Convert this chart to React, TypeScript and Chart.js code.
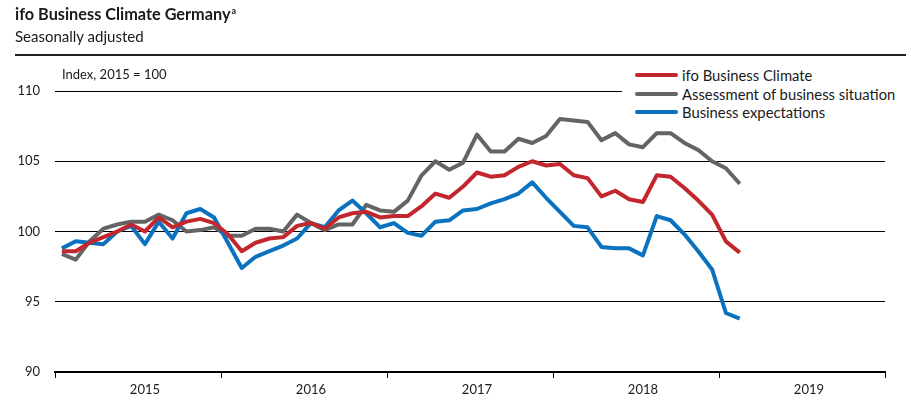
import React, { useEffect, useRef } from "react";
import { Chart, registerables } from "chart.js";

Chart.register(...registerables);

// Categories: months Jan 2015 – Dec 2019
const years = ["2015", "2016", "2017", "2018", "2019"];
const monthNames = ["Jan", "Feb", "Mar", "Apr", "May", "Jun", "Jul", "Aug", "Sep", "Oct", "Nov", "Dec"];
const categories = years.flatMap((y) => monthNames.map((m) => `${m} ${y}`));

// Series (Jan 2015 – Feb 2019), index 2015 = 100
const businessClimate = [
  98.6, 98.6, 99.2, 99.6, 100.0, 100.5, 100.0, 101.0, 100.3, 100.7, 100.9, 100.6,
  99.8, 98.6, 99.2, 99.5, 99.6, 100.4, 100.6, 100.2, 101.0, 101.3, 101.4, 101.0,
  101.1, 101.1, 101.8, 102.7, 102.4, 103.2, 104.2, 103.9, 104.0, 104.6, 105.0, 104.7,
  104.8, 104.0, 103.8, 102.5, 102.9, 102.3, 102.1, 104.0, 103.9, 103.1, 102.2, 101.2,
  99.3, 98.5,
];
const businessSituation = [
  98.4, 98.0, 99.3, 100.2, 100.5, 100.7, 100.7, 101.2, 100.8, 100.0, 100.1, 100.3,
  99.7, 99.7, 100.2, 100.2, 100.0, 101.2, 100.6, 100.1, 100.5, 100.5, 101.9, 101.5,
  101.4, 102.2, 104.0, 105.0, 104.4, 104.9, 106.9, 105.7, 105.7, 106.6, 106.3, 106.8,
  108.0, 107.9, 107.8, 106.5, 107.0, 106.2, 106.0, 107.0, 107.0, 106.3, 105.8, 105.0,
  104.5, 103.4,
];
const businessExpectations = [
  98.8, 99.3, 99.2, 99.1, 100.0, 100.4, 99.1, 100.7, 99.5, 101.3, 101.6, 101.0,
  99.2, 97.4, 98.2, 98.6, 99.0, 99.5, 100.6, 100.3, 101.5, 102.2, 101.3, 100.3,
  100.6, 99.9, 99.7, 100.7, 100.8, 101.5, 101.6, 102.0, 102.3, 102.7, 103.5, 102.4,
  101.4, 100.4, 100.3, 98.9, 98.8, 98.8, 98.3, 101.1, 100.8, 99.8, 98.6, 97.3,
  94.2, 93.8,
];

const seriesNames = ["ifo Business Climate", "Assessment of business situation", "Business expectations"];
const seriesColors = ["#c1272d", "#646464", "#0a72be"];
const yTicks = [90, 95, 100, 105, 110];

const FONT = "Lato, 'Open Sans', sans-serif";
const TEXT = "#1a1a1a";

export default function App() {
  const canvasRef = useRef<HTMLCanvasElement | null>(null);

  useEffect(() => {
    const canvas = canvasRef.current;
    if (!canvas) return;
    const seriesData = [businessClimate, businessSituation, businessExpectations];
    const chart = new Chart(canvas, {
      type: "line",
      data: {
        labels: categories,
        datasets: seriesNames.map((name, i) => ({
          label: name,
          data: seriesData[i],
          borderColor: seriesColors[i],
          backgroundColor: seriesColors[i],
          borderWidth: 4,
          pointRadius: 0,
          tension: 0,
          borderJoinStyle: "round" as const,
          fill: false,
          order: i === 0 ? 0 : i === 1 ? 2 : 1,
        })),
      },
      options: {
        responsive: false,
        animation: false,
        layout: { padding: { top: 91, right: 26, left: 0, bottom: 0 } },
        plugins: {
          legend: { display: false },
          tooltip: { enabled: false },
          title: { display: false },
        },
        scales: {
          x: {
            type: "category",
            offset: true,
            afterFit: (scale: any) => {
              scale.height = 37;
            },
            grid: {
              offset: true,
              drawOnChartArea: false,
              drawTicks: true,
              tickLength: 6,
              tickWidth: 1,
              tickColor: (ctx: any) =>
                ctx.tick === undefined || ctx.index % 12 === 0 ? "#000" : "rgba(0,0,0,0)",
            },
            border: { display: true, color: "#000", width: 2 },
            ticks: {
              autoSkip: false,
              maxRotation: 0,
              minRotation: 0,
              padding: 4,
              color: TEXT,
              font: { family: FONT, size: 13 },
              callback: (_v: any, index: number) =>
                index % 12 === 6 ? years[Math.floor(index / 12)] : "",
            },
          },
          y: {
            min: 90,
            max: 110,
            afterFit: (scale: any) => {
              scale.width = 55;
            },
            afterBuildTicks: (scale: any) => {
              scale.ticks = yTicks.map((v) => ({ value: v }));
            },
            grid: {
              color: "#000",
              lineWidth: 1,
              drawTicks: false,
            },
            border: { display: false },
            ticks: {
              padding: 15,
              color: TEXT,
              font: { family: FONT, size: 13 },
            },
          },
        },
      },
    });
    return () => chart.destroy();
  }, []);

  const legendRows = [75, 94, 112];

  return (
    <div
      style={{
        position: "fixed",
        left: 0,
        top: 0,
        width: 911,
        height: 409,
        background: "#fff",
        fontFamily: FONT,
        color: TEXT,
        overflow: "hidden",
      }}
    >
      <canvas
        ref={canvasRef}
        width={911}
        height={409}
        style={{ position: "absolute", left: 0, top: 0, width: 911, height: 409 }}
      />
      <div
        style={{
          position: "absolute",
          left: 15,
          top: 4,
          fontSize: 16.3,
          fontWeight: 700,
          whiteSpace: "nowrap",
          lineHeight: "20px",
        }}
      >
        ifo Business Climate Germany
        <span style={{ fontSize: 9, position: "relative", top: -6, marginLeft: 1 }}>a</span>
      </div>
      <div
        style={{
          position: "absolute",
          left: 15,
          top: 27,
          fontSize: 15,
          whiteSpace: "nowrap",
          lineHeight: "18px",
        }}
      >
        Seasonally adjusted
      </div>
      <div
        style={{
          position: "absolute",
          left: 15,
          top: 54,
          width: 891,
          height: 2,
          background: "#222",
        }}
      />
      <div
        style={{
          position: "absolute",
          left: 62,
          top: 66,
          fontSize: 13,
          whiteSpace: "nowrap",
          lineHeight: "16px",
        }}
      >
        Index, 2015 = 100
      </div>
      <div
        style={{
          position: "absolute",
          left: 622,
          top: 64,
          width: 289,
          height: 58,
          background: "#fff",
        }}
      >
        {seriesNames.map((name, i) => (
          <div
            key={name}
            style={{
              position: "absolute",
              left: 13,
              top: legendRows[i] - 64 - 9,
              height: 18,
              display: "flex",
              alignItems: "center",
              whiteSpace: "nowrap",
              fontSize: 14.8,
            }}
          >
            <span
              style={{
                display: "inline-block",
                width: 43,
                height: 4.5,
                borderRadius: 3,
                background: seriesColors[i],
                marginRight: 4,
              }}
            />
            {name}
          </div>
        ))}
      </div>
    </div>
  );
}
